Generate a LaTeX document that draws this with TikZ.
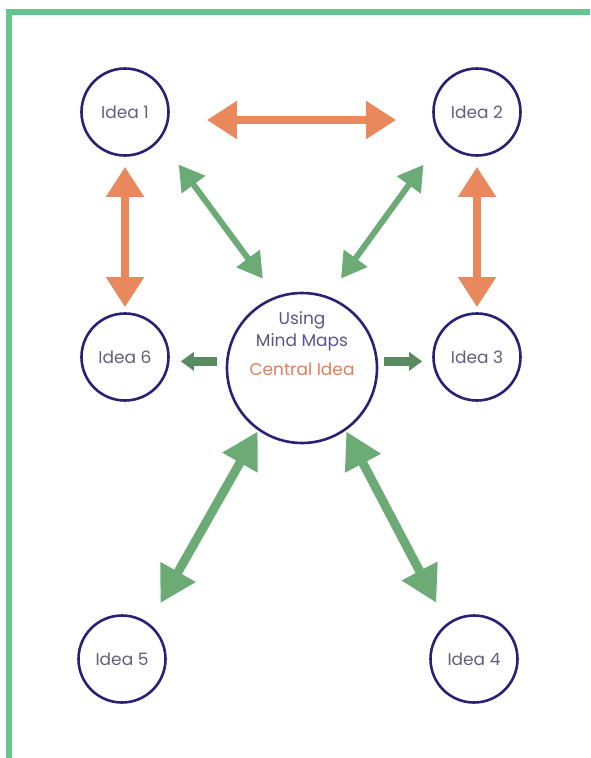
\documentclass[tikz,border=0pt]{standalone}
\definecolor{FrameGreen}{RGB}{102,196,144}
\definecolor{ArrowGreen}{RGB}{108,170,118}
\definecolor{ArrowDark}{RGB}{88,140,96}
\definecolor{ArrowOrange}{RGB}{232,136,92}
\definecolor{RingBlue}{RGB}{42,33,116}
\definecolor{IdeaGray}{RGB}{96,96,122}
\definecolor{TitleBlue}{RGB}{88,86,140}
\definecolor{CentralOrange}{RGB}{224,124,92}
\usepackage{fontspec}
\setmainfont{Poppins}
\usepackage{tikz}
\usetikzlibrary{arrows.meta, positioning, calc}

\begin{document}
\begin{tikzpicture}[x=1pt, y=-1pt,
    idea/.style={circle, draw=RingBlue, line width=2.6pt, minimum size=87pt,
      inner sep=0pt, font=\fontsize{17}{20}\selectfont, text=IdeaGray},
    orangelink/.style={draw=ArrowOrange, line width=8pt,
      {Triangle[width=36pt,length=30pt]}-{Triangle[width=36pt,length=30pt]}},
    greenlink/.style={draw=ArrowGreen, line width=6pt,
      {Triangle[width=28pt,length=25pt]}-{Triangle[width=28pt,length=25pt]}},
    greenbig/.style={draw=ArrowGreen, line width=9pt,
      {Triangle[width=38pt,length=36pt]}-{Triangle[width=38pt,length=36pt]}},
    pointer/.style={draw=ArrowDark, line width=9pt,
      -{Triangle[width=18pt,length=13pt]}}]
  \useasboundingbox (0,0) rectangle (590,758);
  % frame
  \draw[FrameGreen, line width=6pt] (590,12) -- (9,12) -- (9,758);
  % ideas
  \foreach \n/\x/\y in {1/125/112, 2/477/112, 3/477/357,
                        4/474/659, 5/122/659, 6/125/357}{
    \node[idea] (idea\n) at (\x,\y) {Idea \n};
  }
  \node[idea, minimum size=150pt] (central) at (302,368) {};
  \node[align=center, font=\fontsize{17}{22}\selectfont, text=TitleBlue]
    (topic) at (302,344) {Using\\Mind Maps\\[7pt]{\color{CentralOrange}Central Idea}};
  % links
  \draw[orangelink, shorten <=37pt, shorten >=36pt]
    ([yshift=-8pt]idea1.east) -- ([yshift=-8pt]idea2.west);
  \draw[orangelink, shorten <=10pt, shorten >=5pt] (idea1.south) -- (idea6.north);
  \draw[orangelink, shorten <=10pt, shorten >=5pt] (idea2.south) -- (idea3.north);
  \draw[greenlink, shorten <=31pt, shorten >=22pt] (idea1.-38) -- (central.110);
  \draw[greenlink, shorten <=31pt, shorten >=22pt] (idea2.-142) -- (central.70);
  \draw[greenbig, shorten <=1pt, shorten >=23pt] (central.-125) -- (idea5.53);
  \draw[greenbig, shorten <=1pt, shorten >=23pt] (central.-55) -- (idea4.127);
  \draw[pointer, shorten <=9pt, shorten >=11pt] (central.175) -- (central.175 -| idea6.east);
  \draw[pointer, shorten <=6pt, shorten >=10pt] (central.5) -- (central.5 -| idea3.west);
\end{tikzpicture}
\end{document}
